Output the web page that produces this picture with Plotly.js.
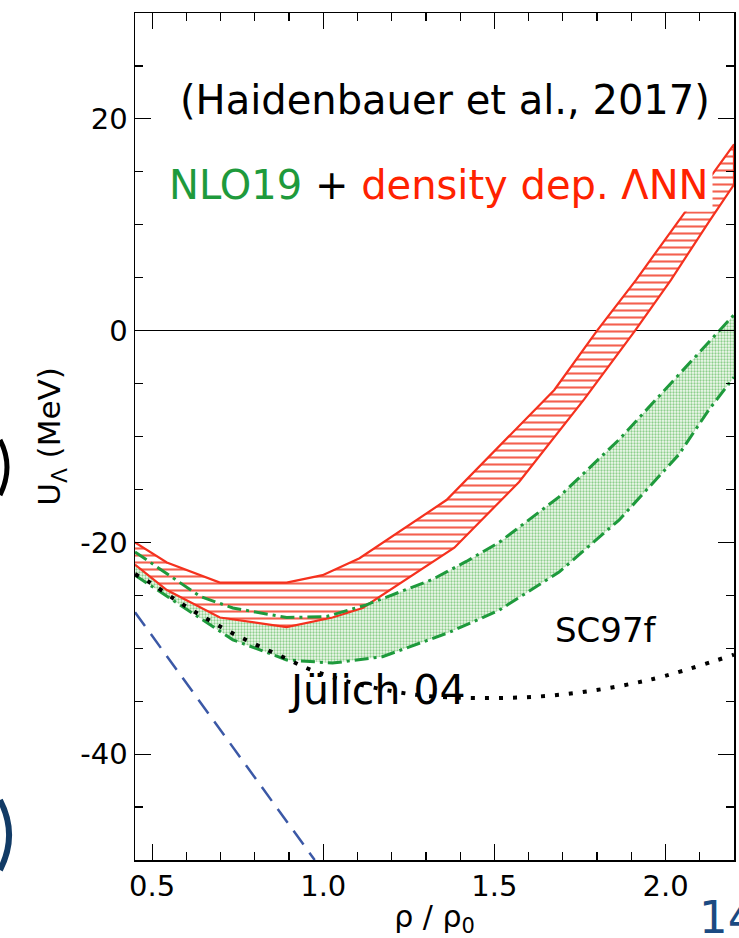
<!DOCTYPE html>
<html>
<head>
<meta charset="utf-8">
<script src="https://cdn.plot.ly/plotly-3.0.1.min.js"></script>
<style>html,body{margin:0;padding:0;background:#fff;}#chart{width:739px;height:938px;}</style>
</head>
<body>
<div id="chart"></div>
<script>
// NLO19 + density dependent ΛNN band (red, hatched)
const redUpperX = [0.45, 0.543, 0.698, 0.893, 0.998, 1.106, 1.360, 1.675, 1.800, 1.914, 2.039, 2.2];
const redUpperY = [-20.0, -21.9, -23.8, -23.8, -23.1, -21.5, -16.0, -5.6, 0.0, 4.8, 10.4, 17.6];
const redLowerX = [0.45, 0.543, 0.698, 0.893, 1.027, 1.115, 1.164, 1.383, 1.572, 1.762, 1.911, 2.016, 2.129, 2.2];
const redLowerY = [-22.1, -24.5, -27.1, -28.0, -27.1, -26.2, -25.1, -20.5, -14.3, -6.5, 0.0, 4.8, 10.4, 13.8];
// NLO19 band (green, dotted fill)
const greenUpperX = [0.45, 0.64, 0.736, 0.893, 1.01, 1.097, 1.126, 1.319, 1.418, 1.514, 1.689, 1.864, 2.039, 2.2];
const greenUpperY = [-20.9, -25.1, -26.2, -27.1, -27.0, -26.2, -25.9, -23.5, -21.8, -20.0, -15.7, -10.3, -4.2, 1.5];
const greenLowerX = [0.45, 0.572, 0.736, 0.893, 1.027, 1.173, 1.368, 1.514, 1.689, 1.864, 2.039, 2.126, 2.2];
const greenLowerY = [-23.1, -25.7, -29.2, -31.1, -31.4, -30.8, -28.5, -26.4, -22.8, -17.9, -11.7, -7.5, -4.4];
// Black dotted curve
const dotX = [0.45, 0.494, 0.572, 0.648, 0.724, 0.806, 0.887, 0.969, 1.091, 1.272, 1.456, 1.689, 1.951, 2.2];
const dotY = [-23.0, -23.8, -25.5, -27.0, -28.4, -29.7, -30.9, -32.1, -33.3, -34.4, -34.7, -34.4, -33.0, -30.6];
// Blue dashed curve
const blueX = [0.45, 0.975];
const blueY = [-26.6, -50.0];

const xTickVals = [0.5, 1.0, 1.5, 2.0];
const xTickText = ["0.5", "1.0", "1.5", "2.0"];
const yTickVals = [-40, -20, 0, 20];
const yTickText = ["-40", "-20", "0", "20"];

const RED = '#f5311e';
const GREEN = '#1e9a3c';
const FONT = 'DejaVu Sans, Arial, sans-serif';

const greenPolyX = greenUpperX.concat(greenLowerX.slice().reverse());
const greenPolyY = greenUpperY.concat(greenLowerY.slice().reverse());
const redPolyX = redUpperX.concat(redLowerX.slice().reverse());
const redPolyY = redUpperY.concat(redLowerY.slice().reverse());

const dashDot = '14px,5px,3px,5px';

const traces = [
  {x: greenPolyX, y: greenPolyY, mode: 'lines', fill: 'toself', line: {width: 0, color: 'rgba(0,0,0,0)'},
   fillcolor: 'rgba(0,0,0,0)',
   fillpattern: {shape: '.', fgcolor: '#8dcf8c', bgcolor: '#f3faf1', size: 3, solidity: 0.45, fillmode: 'replace'},
   hoverinfo: 'skip', showlegend: false},
  {x: redPolyX, y: redPolyY, mode: 'lines', fill: 'toself', line: {width: 2.2, color: RED},
   fillcolor: 'rgba(0,0,0,0)',
   fillpattern: {shape: '-', fgcolor: '#f4604f', bgcolor: '#ffffff', size: 7, solidity: 0.3, fillmode: 'replace'},
   hoverinfo: 'skip', showlegend: false},
  {x: greenUpperX, y: greenUpperY, mode: 'lines', line: {width: 3, color: GREEN, dash: dashDot}, showlegend: false},
  {x: greenLowerX, y: greenLowerY, mode: 'lines', line: {width: 3, color: GREEN, dash: dashDot}, showlegend: false},
  {x: dotX, y: dotY, mode: 'lines', line: {width: 4, color: '#000', dash: '4px,10px', shape: 'spline'}, showlegend: false},
  {x: blueX, y: blueY, mode: 'lines', line: {width: 2.5, color: '#3b58a6', dash: '17px,10px'}, showlegend: false}
];

const layout = {
  width: 739, height: 938,
  margin: {l: 135, r: 5, t: 13, b: 78},
  paper_bgcolor: '#fff', plot_bgcolor: '#fff',
  font: {family: FONT, color: '#000'},
  showlegend: false,
  xaxis: {
    range: [0.45, 2.2], showgrid: false, zeroline: false,
    showline: true, linecolor: '#000', linewidth: 1.5, mirror: 'ticks',
    ticks: 'inside', ticklen: 16, tickwidth: 1.2, tickcolor: '#000',
    tickvals: xTickVals, ticktext: xTickText,
    tickfont: {family: FONT, size: 29, color: '#000'},
    minor: {dtick: 0.1, tick0: 0.5, ticks: 'inside', ticklen: 8, tickwidth: 1.2, tickcolor: '#000', showgrid: false},
    title: {text: 'ρ / ρ<sub>0</sub>', font: {family: FONT, size: 30, color: '#000'}, standoff: 4}
  },
  yaxis: {
    range: [-50, 30], showgrid: false,
    zeroline: true, zerolinecolor: '#000', zerolinewidth: 1.2,
    showline: true, linecolor: '#000', linewidth: 1.5, mirror: 'ticks',
    ticks: 'inside', ticklen: 16, tickwidth: 1.2, tickcolor: '#000',
    tickvals: yTickVals, ticktext: yTickText,
    tickfont: {family: FONT, size: 29, color: '#000'},
    minor: {dtick: 5, tick0: 0, ticks: 'inside', ticklen: 8, tickwidth: 1.2, tickcolor: '#000', showgrid: false},
    title: {text: 'U<sub>Λ</sub> (MeV)', font: {family: FONT, size: 31, color: '#000'}, standoff: 10}
  },
  shapes: [
    {type: 'path', xref: 'paper', yref: 'paper',
     path: 'M -0.2254 0.4959 Q -0.2020 0.4640 -0.2254 0.4309',
     line: {color: '#000', width: 5}},
    {type: 'path', xref: 'paper', yref: 'paper',
     path: 'M -0.2254 0.0708 Q -0.1950 0.0295 -0.2254 -0.0118',
     line: {color: '#123b66', width: 6}}
  ],
  annotations: [
    {text: '(Haidenbauer et al., 2017)', xref: 'x', yref: 'y', x: 1.357, y: 21.8, showarrow: false,
     font: {family: FONT, size: 40, color: '#000'}},
    {text: '<span style="color:' + GREEN + '">NLO19</span> + <span style="color:#ff2200">density dep. ΛNN</span>',
     xref: 'x', yref: 'y', x: 1.339, y: 13.8, showarrow: false, bgcolor: '#fff', borderpad: 3,
     font: {family: FONT, size: 40, color: '#000'}},
    {text: 'SC97f', xref: 'x', yref: 'y', x: 1.826, y: -28.3, showarrow: false,
     font: {family: FONT, size: 34, color: '#000'}},
    {text: 'Jülich 04', xref: 'x', yref: 'y', x: 1.158, y: -33.9, showarrow: false,
     font: {family: FONT, size: 41, color: '#000'}},
    {text: '14', xref: 'paper', yref: 'paper', x: 0.938, xanchor: 'left', y: -0.102, showarrow: false,
     font: {family: FONT, size: 45, color: '#1b4a82'}}
  ]
};

Plotly.newPlot('chart', traces, layout, {displayModeBar: false, staticPlot: true});
</script>
</body>
</html>
